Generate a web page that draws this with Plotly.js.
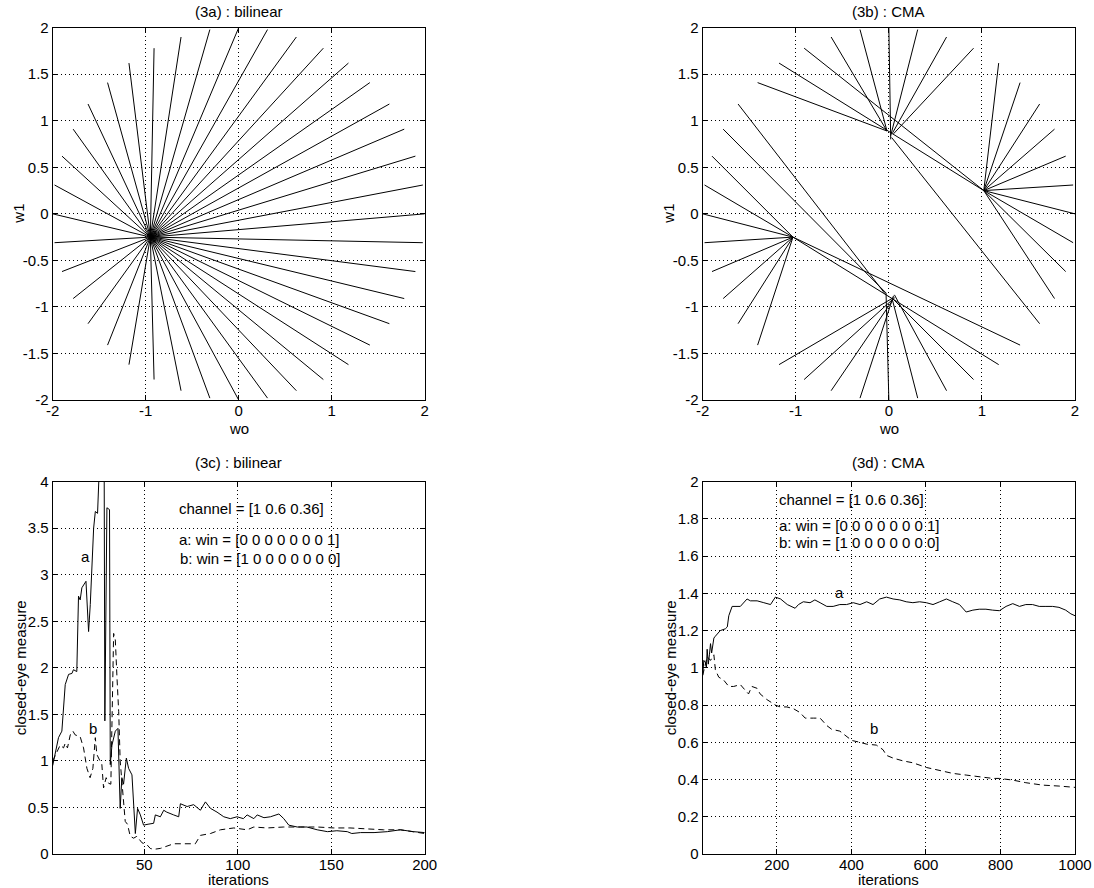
<!DOCTYPE html>
<html>
<head>
<meta charset="utf-8">
<script src="https://cdn.plot.ly/plotly-3.0.1.min.js"></script>
<style>html,body{margin:0;padding:0;background:#fff;}#chart{width:1094px;height:888px;}</style>
</head>
<body>
<div id="chart"></div>
<script>
// ---------------- data ----------------
// initial equaliser settings (wo, w1): 40 points on a circle of radius 2
const initW0 = [2.00, 1.98, 1.90, 1.78, 1.62, 1.41, 1.18, 0.91, 0.62, 0.31, 0.00, -0.31, -0.62, -0.91, -1.18, -1.41, -1.62, -1.78, -1.90, -1.98,
                -2.00, -1.98, -1.90, -1.78, -1.62, -1.41, -1.18, -0.91, -0.62, -0.31, 0.00, 0.31, 0.62, 0.91, 1.18, 1.41, 1.62, 1.78, 1.90, 1.98];
const initW1 = [0.00, 0.31, 0.62, 0.91, 1.18, 1.41, 1.62, 1.78, 1.90, 1.98, 2.00, 1.98, 1.90, 1.78, 1.62, 1.41, 1.18, 0.91, 0.62, 0.31,
                0.00, -0.31, -0.62, -0.91, -1.18, -1.41, -1.62, -1.78, -1.90, -1.98, -2.00, -1.98, -1.90, -1.78, -1.62, -1.41, -1.18, -0.91, -0.62, -0.31];

// (3a) bilinear: every trajectory ends at the same point
const bilinearEndW0 = -0.95;
const bilinearEndW1 = -0.25;

// (3b) CMA: final point of each trajectory (same order as init points)
const cmaEndW0 = [1.02, 1.02, 1.02, 1.02, 1.02, 1.02, 1.02,
                  0.05, 0.04, 0.02, 0.02,
                  -0.02, -0.02,
                  1.02, 1.02,
                  -0.02,
                  -0.04, -0.03,
                  -1.03,
                  -1.03, -1.03, -1.03, -1.03, -1.03, -1.03, -1.03,
                  0.05, 0.04, 0.06, 0.05,
                  -0.03,
                  0.04, 0.06, 0.05,
                  -1.03, -1.03,
                  0.03,
                  1.02, 1.02, 1.02];
const cmaEndW1 = [0.25, 0.25, 0.25, 0.25, 0.25, 0.25, 0.25,
                  0.86, 0.87, 0.84, 0.80,
                  0.89, 0.89,
                  0.25, 0.25,
                  0.89,
                  -0.86, -0.85,
                  -0.25,
                  -0.25, -0.25, -0.25, -0.25, -0.25, -0.25, -0.25,
                  -0.90, -0.92, -0.90, -0.88,
                  -0.85,
                  -0.93, -0.87, -0.92,
                  -0.25, -0.25,
                  0.82,
                  0.25, 0.25, 0.25];

// (3c) bilinear closed-eye measure
const bilA_iter = [1, 2.3, 4.1, 5.9, 7.7, 9.5, 11.3, 12.1, 13.9, 14.8, 15.7, 16.6, 18.8, 20.2, 21.1, 22.9, 23.8, 25, 26.4, 28.5, 28.9, 30, 31.4, 31.8,
                   32.7, 34.5, 35.9, 37.1, 38, 38.9, 40.4, 41.6, 43.4, 45.2, 46.4, 47.9, 49.6, 52, 55, 55.9, 58.6, 60.4, 62, 65.7, 68.4, 69.3, 72.9,
                   76.4, 80, 82.7, 85.4, 88.9, 92.5, 96, 99.6, 103, 105, 108.6, 110.4, 114, 117.5, 122, 124.6, 127.3, 131.8, 137, 142.5, 148, 153,
                   158.6, 161, 165.7, 172.9, 180, 187, 194, 200];
const bilA_val  = [0.95, 1.07, 1.25, 1.32, 1.82, 1.93, 1.94, 1.98, 1.96, 2.77, 2.73, 2.86, 2.93, 2.39, 2.68, 3.5, 3.68, 3.66, 4.4, 4.4, 1.43, 3.72, 3.7, 0.96,
                   1.17, 1.32, 1.35, 0.49, 0.82, 0.75, 1.03, 0.92, 0.85, 0.22, 0.49, 0.42, 0.31, 0.32, 0.33, 0.42, 0.40, 0.47, 0.45, 0.42, 0.40, 0.54, 0.51,
                   0.53, 0.47, 0.56, 0.49, 0.45, 0.40, 0.38, 0.40, 0.38, 0.42, 0.38, 0.42, 0.39, 0.40, 0.43, 0.38, 0.31, 0.29, 0.29, 0.26, 0.24, 0.25,
                   0.24, 0.22, 0.23, 0.23, 0.24, 0.26, 0.24, 0.23];
const bilB_iter = [1, 3.2, 5, 6.8, 7.7, 8.9, 10.4, 11.8, 13, 15.7, 17.5, 19.3, 21, 22.5, 23.8, 24.6, 26.4, 27.3, 28.2, 29.6, 30.9, 32.1, 33.6, 34.5,
                   35.4, 36.3, 37.1, 38.6, 39.8, 41, 42.5, 44.3, 46, 48.8, 51.4, 53.2, 55, 58.6, 62, 65.7, 71, 77.3, 80, 85.4, 90.7, 97.9, 105, 108.6,
                   115.7, 124.6, 133.6, 142.5, 151.4, 160, 169, 178, 187, 194, 200];
const bilB_val  = [1.0, 1.1, 1.17, 1.14, 1.19, 1.14, 1.28, 1.32, 1.28, 1.26, 1.14, 0.92, 0.82, 0.92, 1.25, 1.07, 1.0, 0.96, 0.71, 0.82, 0.76, 0.75, 2.37, 2.3,
                   1.89, 1.53, 1.0, 0.64, 0.35, 0.32, 0.19, 0.17, 0.19, 0.12, 0.10, 0.06, 0.05, 0.06, 0.08, 0.11, 0.11, 0.11, 0.20, 0.22, 0.26, 0.28, 0.26, 0.29,
                   0.28, 0.29, 0.29, 0.29, 0.28, 0.28, 0.27, 0.26, 0.26, 0.24, 0.22];

// (3d) CMA closed-eye measure
const cmaA_iter = [1, 4, 8, 11, 13, 16, 19, 22, 25, 28, 31, 35, 40, 48, 62, 67, 71, 80, 102, 111, 120, 129, 147, 165, 183, 196, 210, 228, 249, 258,
                   271, 289, 302, 316, 334, 351, 369, 387, 405, 423, 441, 458, 476, 494, 512, 530, 547, 565, 583, 601, 619, 637, 655, 672, 690, 708,
                   726, 743, 761, 779, 797, 815, 833, 851, 868, 886, 904, 922, 940, 957, 975, 989, 1000];
const cmaA_val  = [0.96, 1.04, 1.03, 1.0, 1.1, 1.02, 1.07, 1.13, 1.08, 1.14, 1.16, 1.17, 1.18, 1.2, 1.21, 1.22, 1.28, 1.33, 1.33, 1.35, 1.37, 1.36, 1.36, 1.35,
                   1.34, 1.38, 1.37, 1.34, 1.32, 1.34, 1.355, 1.35, 1.365, 1.35, 1.33, 1.33, 1.34, 1.34, 1.35, 1.34, 1.355, 1.34, 1.37, 1.38, 1.37, 1.365,
                   1.355, 1.35, 1.355, 1.35, 1.34, 1.355, 1.37, 1.355, 1.34, 1.30, 1.31, 1.315, 1.315, 1.31, 1.307, 1.33, 1.345, 1.33, 1.34, 1.34, 1.33,
                   1.33, 1.33, 1.325, 1.31, 1.29, 1.28];
const cmaB_iter = [1, 13, 22, 31, 35, 44, 57, 71, 84, 102, 115, 124, 133, 147, 155, 173, 196, 209, 227, 245, 262, 276, 298, 316, 334, 347, 369, 387,
                   401, 423, 441, 467, 485, 494, 512, 539, 565, 601, 637, 672, 708, 743, 779, 797, 833, 868, 913, 957, 1000];
const cmaB_val  = [0.96, 1.06, 1.04, 1.07, 0.99, 0.95, 0.935, 0.90, 0.90, 0.91, 0.88, 0.86, 0.90, 0.89, 0.86, 0.83, 0.80, 0.79, 0.79, 0.78, 0.76, 0.73,
                   0.73, 0.73, 0.69, 0.67, 0.66, 0.63, 0.61, 0.60, 0.59, 0.585, 0.56, 0.53, 0.515, 0.50, 0.49, 0.465, 0.45, 0.433, 0.424, 0.415, 0.406,
                   0.406, 0.397, 0.383, 0.37, 0.365, 0.358];

// tick labels
const wTickVals = [-2, -1.5, -1, -0.5, 0, 0.5, 1, 1.5, 2];
const wTickText = ['-2', '-1.5', '-1', '-0.5', '0', '0.5', '1', '1.5', '2'];
const woTickVals = [-2, -1, 0, 1, 2];
const woTickText = ['-2', '-1', '0', '1', '2'];
const bilIterTicks = [50, 100, 150, 200];
const bilIterText = ['50', '100', '150', '200'];
const bilValTicks = [0, 0.5, 1, 1.5, 2, 2.5, 3, 3.5, 4];
const bilValText = ['0', '0.5', '1', '1.5', '2', '2.5', '3', '3.5', '4'];
const cmaIterTicks = [200, 400, 600, 800, 1000];
const cmaIterText = ['200', '400', '600', '800', '1000'];
const cmaValTicks = [0, 0.2, 0.4, 0.6, 0.8, 1, 1.2, 1.4, 1.6, 1.8, 2];
const cmaValText = ['0', '0.2', '0.4', '0.6', '0.8', '1', '1.2', '1.4', '1.6', '1.8', '2'];

// text
const titles = ['(3a) : bilinear', '(3b) : CMA', '(3c) : bilinear', '(3d) : CMA'];
const channelText = 'channel = [1 0.6 0.36]';
const winAText = 'a: win = [0 0 0 0 0 0 0 1]';
const winBText = 'b: win = [1 0 0 0 0 0 0 0]';

// ---------------- build ----------------
const W = 1094, H = 888;
const FONT = 'Liberation Sans, Arial, Helvetica, sans-serif';
const fx = p => p / W;
const fy = p => 1 - p / H;

function segments(x0, y0, ex, ey) {
  const xs = [], ys = [];
  for (let i = 0; i < x0.length; i++) {
    const exi = Array.isArray(ex) ? ex[i] : ex;
    const eyi = Array.isArray(ey) ? ey[i] : ey;
    xs.push(x0[i], exi, null);
    ys.push(y0[i], eyi, null);
  }
  return {x: xs, y: ys};
}

const segA = segments(initW0, initW1, bilinearEndW0, bilinearEndW1);
const segB = segments(initW0, initW1, cmaEndW0, cmaEndW1);
const lineStyle = {color: '#000', width: 1};
const dashStyle = {color: '#000', width: 1, dash: '6px,4px'};

const traces = [
  {type: 'scatter', mode: 'lines', x: segA.x, y: segA.y, xaxis: 'x', yaxis: 'y', line: lineStyle, hoverinfo: 'skip'},
  {type: 'scatter', mode: 'lines', x: segB.x, y: segB.y, xaxis: 'x2', yaxis: 'y2', line: lineStyle, hoverinfo: 'skip'},
  {type: 'scatter', mode: 'lines', x: bilA_iter, y: bilA_val, xaxis: 'x3', yaxis: 'y3', line: lineStyle, hoverinfo: 'skip'},
  {type: 'scatter', mode: 'lines', x: bilB_iter, y: bilB_val, xaxis: 'x3', yaxis: 'y3', line: dashStyle, hoverinfo: 'skip'},
  {type: 'scatter', mode: 'lines', x: cmaA_iter, y: cmaA_val, xaxis: 'x4', yaxis: 'y4', line: lineStyle, hoverinfo: 'skip'},
  {type: 'scatter', mode: 'lines', x: cmaB_iter, y: cmaB_val, xaxis: 'x4', yaxis: 'y4', line: dashStyle, hoverinfo: 'skip'}
];

// plot-area pixel boxes
const leftCol = [52.7, 424.7], rightCol = [702.7, 1075];
const topRow = [27.7, 400], botRow = [481.7, 854];

function ax(extra) {
  return Object.assign({
    showline: true, linecolor: '#000', linewidth: 1, mirror: 'ticks',
    ticks: 'inside', ticklen: 5, tickwidth: 1, tickcolor: '#000',
    showgrid: true, gridcolor: '#000', gridwidth: 1, griddash: '1px,3px',
    zeroline: false, tickmode: 'array', fixedrange: true,
    tickfont: {family: FONT, size: 15, color: '#000'}
  }, extra);
}
const xExtra = {ticklabelstandoff: -3};

const layout = {
  width: W, height: H, autosize: false,
  margin: {l: 0, r: 0, t: 0, b: 0, pad: 0},
  paper_bgcolor: '#fff', plot_bgcolor: '#fff', showlegend: false,
  font: {family: FONT, size: 15, color: '#000'},
  xaxis:  ax(Object.assign({domain: [fx(leftCol[0]), fx(leftCol[1])], range: [-2, 2], anchor: 'y', tickvals: woTickVals, ticktext: woTickText}, xExtra)),
  yaxis:  ax({domain: [fy(topRow[1]), fy(topRow[0])], range: [-2, 2], anchor: 'x', tickvals: wTickVals, ticktext: wTickText}),
  xaxis2: ax(Object.assign({domain: [fx(rightCol[0]), fx(rightCol[1])], range: [-2, 2], anchor: 'y2', tickvals: woTickVals, ticktext: woTickText}, xExtra)),
  yaxis2: ax({domain: [fy(topRow[1]), fy(topRow[0])], range: [-2, 2], anchor: 'x2', tickvals: wTickVals, ticktext: wTickText}),
  xaxis3: ax(Object.assign({domain: [fx(leftCol[0]), fx(leftCol[1])], range: [1, 200], anchor: 'y3', tickvals: bilIterTicks, ticktext: bilIterText}, xExtra)),
  yaxis3: ax({domain: [fy(botRow[1]), fy(botRow[0])], range: [0, 4], anchor: 'x3', tickvals: bilValTicks, ticktext: bilValText}),
  xaxis4: ax(Object.assign({domain: [fx(rightCol[0]), fx(rightCol[1])], range: [1, 1000], anchor: 'y4', tickvals: cmaIterTicks, ticktext: cmaIterText}, xExtra)),
  yaxis4: ax({domain: [fy(botRow[1]), fy(botRow[0])], range: [0, 2], anchor: 'x4', tickvals: cmaValTicks, ticktext: cmaValText}),
  annotations: []
};

function paperText(text, xPix, yPix, opts) {
  return Object.assign({
    text: text, xref: 'paper', yref: 'paper', x: fx(xPix), y: fy(yPix),
    xanchor: 'center', yanchor: 'middle', showarrow: false,
    font: {family: FONT, size: 15, color: '#000'}
  }, opts || {});
}
function dataText(text, xr, yr, xv, yv, anchor) {
  return {text: text, xref: xr, yref: yr, x: xv, y: yv, xanchor: anchor || 'center', yanchor: 'middle',
          showarrow: false, font: {family: FONT, size: 15, color: '#000'}};
}

const cL = (leftCol[0] + leftCol[1]) / 2, cR = (rightCol[0] + rightCol[1]) / 2;
const A = layout.annotations;
// subplot titles
A.push(paperText(titles[0], cL, 11.7));
A.push(paperText(titles[1], cR, 11.7));
A.push(paperText(titles[2], cL, 462.4));
A.push(paperText(titles[3], cR, 462.4));
// x axis titles
A.push(paperText('wo', cL, 428.5));
A.push(paperText('wo', cR, 428.5));
A.push(paperText('iterations', cL, 879.3));
A.push(paperText('iterations', cR, 879.3));
// y axis titles
const mT = (topRow[0] + topRow[1]) / 2, mB = (botRow[0] + botRow[1]) / 2;
A.push(paperText('w1', 18.8, mT, {textangle: -90}));
A.push(paperText('w1', 668.8, mT, {textangle: -90}));
A.push(paperText('closed-eye measure', 20.5, mB, {textangle: -90}));
A.push(paperText('closed-eye measure', 670.5, mB, {textangle: -90}));
// in-plot labels (3c)
A.push(dataText(channelText, 'x3', 'y3', 67.3, 3.71, 'left'));
A.push(dataText(winAText, 'x3', 'y3', 67.3, 3.377, 'left'));
A.push(dataText(winBText, 'x3', 'y3', 68.2, 3.18, 'left'));
A.push(dataText('a', 'x3', 'y3', 18.5, 3.196));
A.push(dataText('b', 'x3', 'y3', 22.3, 1.345));
// in-plot labels (3d)
A.push(dataText(channelText, 'x4', 'y4', 199.7, 1.907, 'left'));
A.push(dataText(winAText, 'x4', 'y4', 199.7, 1.763, 'left'));
A.push(dataText(winBText, 'x4', 'y4', 199.7, 1.671, 'left'));
A.push(dataText('a', 'x4', 'y4', 367.6, 1.407));
A.push(dataText('b', 'x4', 'y4', 461.6, 0.6726));

Plotly.newPlot('chart', traces, layout, {displayModeBar: false, staticPlot: true});
</script>
</body>
</html>
